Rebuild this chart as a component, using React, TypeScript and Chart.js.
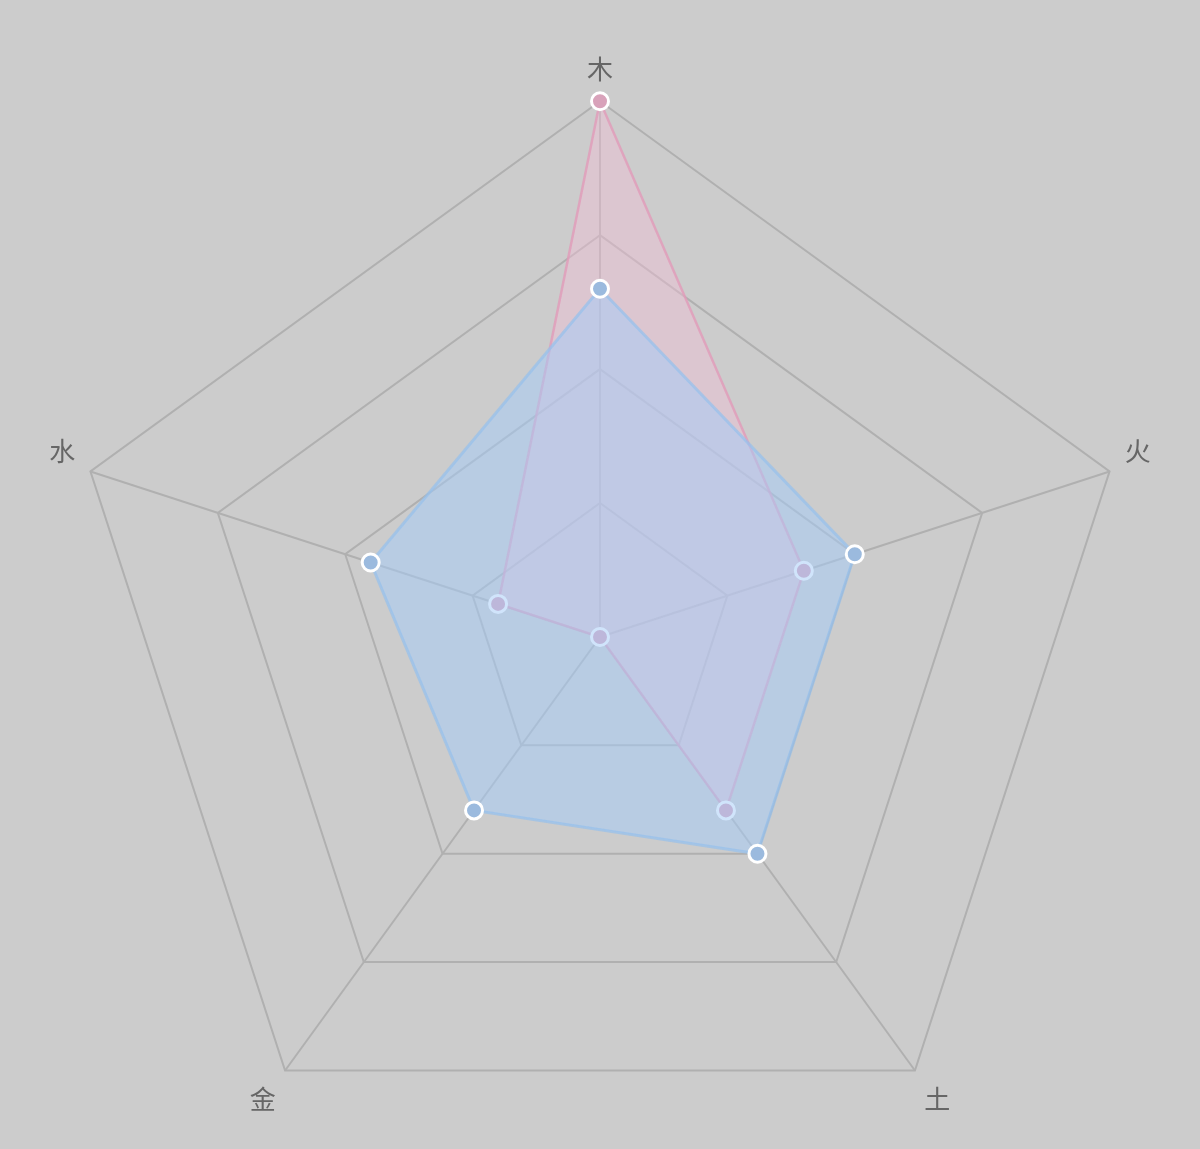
import React, { useEffect, useRef } from "react";
import { Chart, registerables } from "chart.js";

Chart.register(...registerables);

const categories = ["木", "火", "土", "金", "水"];
const seriesPink = [10, 4, 4, 0, 2];
const seriesBlue = [6.5, 5, 5, 4, 4.5];
const scaleMax = 10;
const scaleStep = 2.5;

export default function App() {
  const ref = useRef<HTMLCanvasElement | null>(null);

  useEffect(() => {
    document.body.style.margin = "0";
    document.body.style.background = "#cccccc";
    const ctx = ref.current;
    if (!ctx) return;
    const chart = new Chart(ctx, {
      type: "radar",
      data: {
        labels: categories,
        datasets: [
          {
            label: "B",
            data: seriesBlue,
            backgroundColor: "rgba(165, 203, 248, 0.52)",
            borderColor: "rgba(150, 192, 236, 0.7)",
            borderWidth: 3,
            fill: true,
            pointRadius: 8.5,
            pointHoverRadius: 8.5,
            pointBorderWidth: 3,
            pointBorderColor: "#ffffff",
            pointBackgroundColor: "rgb(155, 186, 222)",
          },
          {
            label: "A",
            data: seriesPink,
            backgroundColor: "rgba(242, 190, 215, 0.42)",
            borderColor: "rgba(225, 155, 185, 0.8)",
            borderWidth: 2.5,
            fill: true,
            pointRadius: 8.5,
            pointHoverRadius: 8.5,
            pointBorderWidth: 3,
            pointBorderColor: "#ffffff",
            pointBackgroundColor: "rgb(216, 162, 186)",
          },
        ],
      },
      options: {
        animation: false,
        responsive: false,
        maintainAspectRatio: false,
        layout: { padding: { top: 31, bottom: 0, left: 0, right: 0 } },
        plugins: {
          legend: { display: false },
          tooltip: { enabled: false },
        },
        elements: { line: { tension: 0 } },
        scales: {
          r: {
            min: 0,
            max: scaleMax,
            ticks: { display: false, stepSize: scaleStep },
            grid: { color: "#b0b0b0", lineWidth: 2 },
            angleLines: { color: "#b0b0b0", lineWidth: 2 },
            pointLabels: {
              padding: 16,
              color: "#666666",
              font: { size: 26, family: "'Noto Sans CJK SC', 'Noto Sans', sans-serif" },
            },
          },
        },
      },
    });
    return () => chart.destroy();
  }, []);

  return (
    <div
      style={{
        position: "fixed",
        top: 0,
        left: 0,
        width: 1200,
        height: 1149,
        overflow: "hidden",
        background: "#cccccc",
      }}
    >
      <canvas ref={ref} width={1200} height={1197} style={{ display: "block" }} />
    </div>
  );
}
